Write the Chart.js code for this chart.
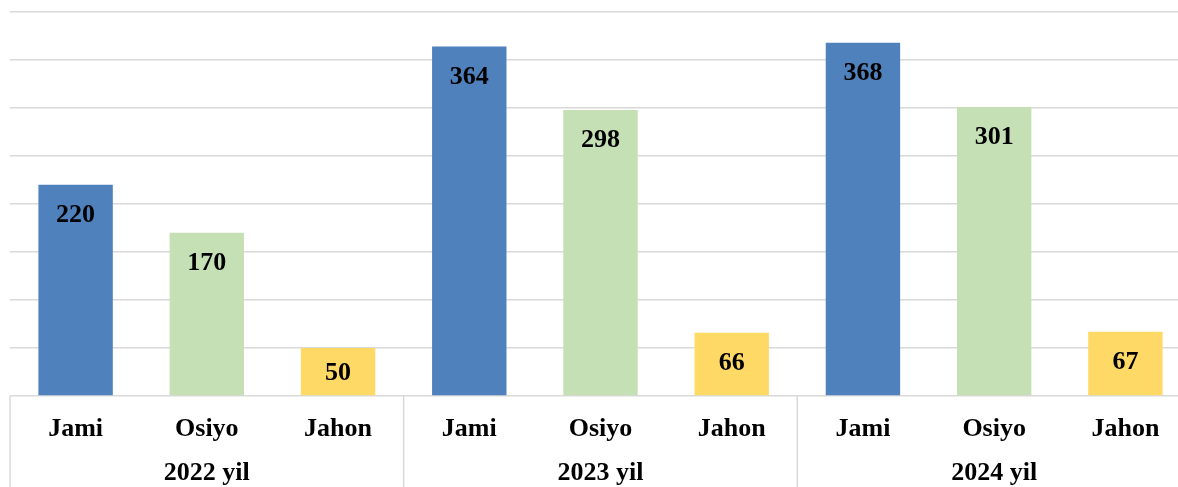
<!DOCTYPE html>
<html>
<head>
<meta charset="utf-8">
<script src="https://cdn.jsdelivr.net/npm/chart.js@4"></script>
<style>
  html, body { margin: 0; padding: 0; background: #fff; overflow: hidden; }
  #wrap { width: 1191px; height: 487px; }
</style>
</head>
<body>
<div id="wrap"><canvas id="myChart"></canvas></div>
<script>
// chart data
var years = ['2022 yil', '2023 yil', '2024 yil'];
var groups = ['Jami', 'Osiyo', 'Jahon'];
var values = [220, 170, 50, 364, 298, 66, 368, 301, 67];
var barColors = ['#4F81BD', '#C5E0B4', '#FFD966'];

var labelFont = 'bold 26px "Liberation Serif", "Times New Roman", serif';
var gridColor = '#D9D9D9';

// one label per bar, e.g. "Jami" repeated for every year
var labels = [];
var colors = [];
years.forEach(function (y) {
    groups.forEach(function (g, j) {
        labels.push(g);
        colors.push(barColors[j]);
    });
});

// draws value labels, category labels, year labels and separator lines
var decorPlugin = {
    id: 'decor',
    afterDatasetsDraw: function (chart) {
        var ctx = chart.ctx;
        var meta = chart.getDatasetMeta(0);
        ctx.save();
        ctx.font = labelFont;
        ctx.fillStyle = '#000';
        ctx.textAlign = 'center';
        ctx.textBaseline = 'alphabetic';
        meta.data.forEach(function (bar, i) {
            var mid = (bar.y + bar.base) / 2;
            var yText = Math.min(bar.y + 37, mid + 8);
            ctx.fillText(String(values[i]), bar.x, yText);
        });
        ctx.restore();
    },
    afterDraw: function (chart) {
        var ctx = chart.ctx;
        var xs = chart.scales.x;
        var area = chart.chartArea;
        var step = xs.getPixelForValue(1) - xs.getPixelForValue(0);
        ctx.save();
        // separators between the year groups
        ctx.strokeStyle = gridColor;
        ctx.lineWidth = 1.5;
        for (var k = 0; k <= years.length; k++) {
            var sx = xs.getPixelForValue(k * groups.length) - step / 2;
            ctx.beginPath();
            ctx.moveTo(sx, area.bottom);
            ctx.lineTo(sx, chart.height);
            ctx.stroke();
        }
        ctx.font = labelFont;
        ctx.fillStyle = '#000';
        ctx.textAlign = 'center';
        ctx.textBaseline = 'alphabetic';
        labels.forEach(function (l, i) {
            ctx.fillText(l, xs.getPixelForValue(i), area.bottom + 39.5);
        });
        years.forEach(function (y, k) {
            var cx = xs.getPixelForValue(k * groups.length + 1);
            ctx.fillText(y, cx, area.bottom + 84);
        });
        ctx.restore();
    }
};

function drawGraph() {
    var ctx = document.getElementById('myChart');
    new Chart(ctx, {
        type: 'bar',
        data: {
            labels: labels,
            datasets: [{
                data: values,
                backgroundColor: colors,
                borderWidth: 0,
                barPercentage: 0.567,
                categoryPercentage: 1
            }]
        },
        options: {
            responsive: true,
            maintainAspectRatio: false,
            animation: false,
            layout: { padding: { left: 10, top: 12, right: 0, bottom: 0 } },
            plugins: {
                legend: { display: false },
                tooltip: { enabled: false }
            },
            scales: {
                x: {
                    ticks: { display: false },
                    grid: { display: false },
                    border: { display: false },
                    afterFit: function (s) { s.height = 91; }
                },
                y: {
                    min: 0,
                    max: 400,
                    ticks: { display: false, stepSize: 50 },
                    grid: { color: gridColor, lineWidth: 1.5, drawTicks: false },
                    border: { display: false },
                    afterFit: function (s) { s.width = 0; }
                }
            }
        },
        plugins: [decorPlugin]
    });
}

drawGraph();
</script>
</body>
</html>
